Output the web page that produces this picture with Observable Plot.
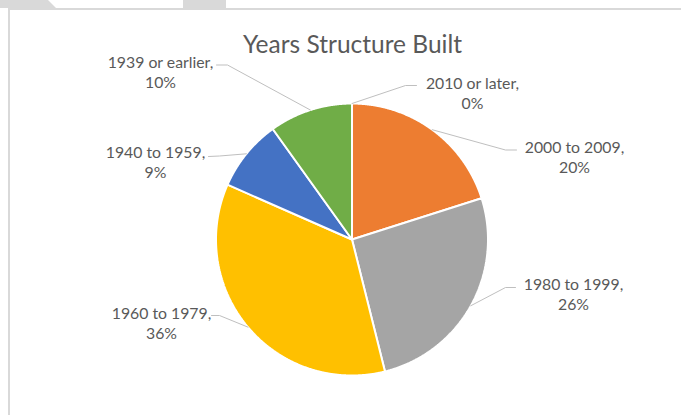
<!DOCTYPE html>
<html>
<head>
<meta charset="utf-8">
<script src="https://cdn.jsdelivr.net/npm/d3@7"></script>
<script src="https://cdn.jsdelivr.net/npm/@observablehq/plot@0.6"></script>
<style>
  html, body { margin: 0; padding: 0; background: #ffffff; }
  #wrap { position: relative; width: 681px; height: 415px; overflow: hidden; background: #fff; }
  .deco { position: absolute; background: #d9d9d9; }
  #chart { position: absolute; left: 0; top: 0; }
</style>
</head>
<body>
<div id="wrap">
  <div class="deco" style="left:8px;top:8px;width:673px;height:2px;"></div>
  <div class="deco" style="left:8px;top:8px;width:2px;height:407px;"></div>
  <div class="deco" style="left:0;top:0;width:56px;height:8px;clip-path:polygon(0 0, 48px 0, 56px 8px, 0 8px);"></div>
  <div class="deco" style="left:183px;top:0;width:43px;height:8px;"></div>
  <div id="chart"></div>
</div>
<script>
// ---- data ----
const title = "Years Structure Built";
const categories = ["2010 or later", "2000 to 2009", "1980 to 1999", "1960 to 1979", "1940 to 1959", "1939 or earlier"];
const shares = [0, 20.1, 26.0, 35.5, 8.5, 9.9];
const colors = ["#5B9BD5", "#ED7D31", "#A5A5A5", "#FFC000", "#4472C4", "#70AD47"];

// ---- layout (pixel frame) ----
const W = 681, H = 415;
const cx = 351.5, cy = 239, R = 136;
const font = "Lato, 'Open Sans', sans-serif";
// label block centres and leader elbows/ends, per category order
const labelLayout = [
  {lx: 472, ly: 92,  elbow: [405, 85],  end: [416, 85]},
  {lx: 574, ly: 156, elbow: [505, 149.5], end: [516, 149.5]},
  {lx: 573, ly: 293, elbow: [505, 287], end: [515, 287]},
  {lx: 161, ly: 322, elbow: [219, 315], end: [211, 315]},
  {lx: 155, ly: 161, elbow: [219, 155.5], end: [208, 156]},
  {lx: 160, ly: 71,  elbow: [227, 64.5], end: [216, 64.5]}
];

const pt = (a, r) => [cx + r * Math.sin(a), cy - r * Math.cos(a)];

const arcs = d3.pie().sort(null).startAngle(0).endAngle(2 * Math.PI)(shares);

const slices = arcs.map((a, i) => {
  const pts = [[cx, cy]];
  const n = Math.max(2, Math.ceil((a.endAngle - a.startAngle) / 0.005));
  for (let k = 0; k <= n; k++) {
    pts.push(pt(a.startAngle + (a.endAngle - a.startAngle) * k / n, R));
  }
  pts.push([cx, cy]);
  return {value: a.value, color: colors[i], pts};
});

const leaders = arcs.map((a, i) => {
  const mid = (a.startAngle + a.endAngle) / 2;
  const L = labelLayout[i];
  return [pt(mid, R), L.elbow, L.end];
});

const labels = categories.map((c, i) => ({
  x: labelLayout[i].lx,
  y: labelLayout[i].ly,
  text: `${c},\n${Math.round(shares[i])}%`
}));

const marks = [];
slices.filter(s => s.value > 0).forEach(s => {
  marks.push(Plot.line(s.pts, {x: d => d[0], y: d => d[1], fill: s.color, stroke: "#ffffff", strokeWidth: 2, strokeLinejoin: "miter"}));
});
leaders.forEach(l => {
  marks.push(Plot.line(l, {x: d => d[0], y: d => d[1], stroke: "#bfbfbf", strokeWidth: 1}));
});
marks.push(Plot.text(labels, {x: "x", y: "y", text: "text", textAnchor: "middle", lineAnchor: "middle", lineHeight: 1.3, fontSize: 15.8, fill: "#595959", fontFamily: font}));
marks.push(Plot.text([title], {frameAnchor: "top", dx: 11.5, dy: 52, lineAnchor: "bottom", fontSize: 24.5, fill: "#595959", fontFamily: font}));

const chart = Plot.plot({
  width: W,
  height: H,
  margin: 0,
  x: {domain: [0, W], range: [0, W], axis: null},
  y: {domain: [0, H], range: [0, H], axis: null},
  style: {background: "transparent", overflow: "visible"},
  marks
});
document.getElementById("chart").appendChild(chart);
</script>
</body>
</html>
